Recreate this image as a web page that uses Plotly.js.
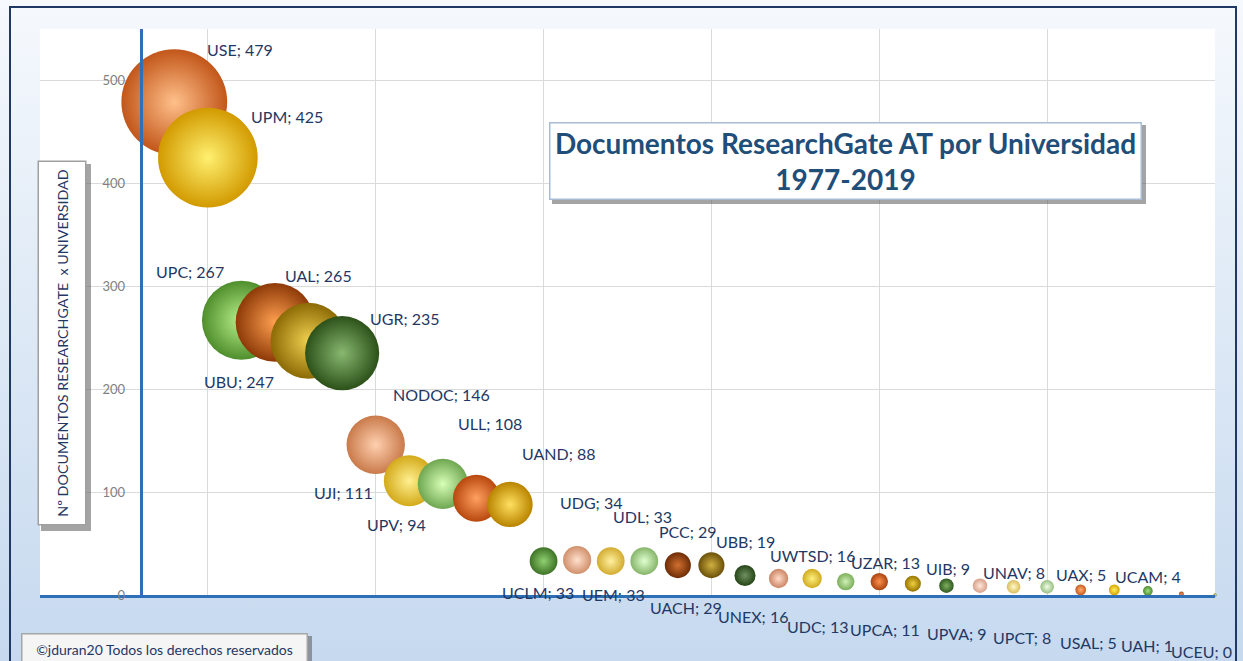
<!DOCTYPE html>
<html>
<head>
<meta charset="utf-8">
<script src="https://cdn.plot.ly/plotly-3.0.1.min.js"></script>
<style>
html,body{margin:0;padding:0;width:1243px;height:661px;overflow:hidden;background:#EAF1F9;}
#bg{position:absolute;left:0;top:0;width:1243px;height:661px;background:linear-gradient(to bottom,#F6F9FD 0%,#E2ECF7 40%,#C6D9EF 100%);}
#frame{position:absolute;left:9px;top:6px;width:1228px;height:720px;border:2px solid #1F3864;box-sizing:border-box;}
#chart{position:absolute;left:0;top:0;width:1243px;height:661px;}
</style>
</head>
<body>
<div id="bg"></div>
<div id="frame"></div>
<div id="chart"></div>
<script>
// ---- data ----
const universities = ["USE","UPM","UPC","UAL","UBU","UGR","NODOC","UJI","ULL","UPV","UAND",
  "UCLM","UDG","UEM","UDL","UACH","PCC","UBB","UNEX","UWTSD","UDC","UZAR","UPCA","UIB",
  "UPVA","UNAV","UPCT","UAX","USAL","UCAM","UAH","UCEU"];
const documents = [479,425,267,265,247,235,146,111,108,94,88,
  33,34,33,33,29,29,19,16,16,13,13,11,9,
  9,8,8,5,5,4,1,0];
const position = universities.map((_, i) => i + 1);

// ---- styles ----
const edgeColors = ["#C2561A","#D29A00","#4F8E2C","#8E3A08","#8C6A05","#2C5119","#C97A4A","#D3AA1A","#6FA650",
  "#B8480E","#B98400","#3E7326","#D0906C","#D2AC30","#86B56A","#6E2C06","#6A500A","#264517","#CB8464",
  "#D0AA20","#7AAE58","#A8420E","#977400","#2F5A1F","#D7A088","#D8BD5C","#98BE80","#C85A1E","#D6A400",
  "#4E8A2E","#A84A1A","#8C8C2C"];
const centerColors = ["#FFC08A","#FFF070","#B8F08A","#FFA050","#F0D050","#88B870","#FFD0B0","#FFF090","#D8FFB8",
  "#FFA060","#FFE060","#90D070","#FFE0CC","#FFF0A0","#E0FFD0","#D07030","#D0B040","#709060","#FFDCC8",
  "#FFF080","#D0F0B8","#FF9050","#F0D040","#80B060","#FFE8DC","#FFF8C8","#F0FFE8","#FFB070","#FFF060",
  "#A0E080","#F09060","#E0E080"];
// label offsets in pixels from bubble centre (screen dx, dy)
const labelDX = [66,79,-51,43,-70,63,66,-66,47,-80,49,-6,14,3,-2,8,-23,0,-26,0,-28,6,-28,2,-23,0,-25,0,-26,0,-34,-14];
const labelDY = [-53,-41,-49,-47,41,-35,-50,12,-60,26,-51,31,-58,33,-45,42,-34,-34,38,-23,45,-19,46,-17,48,-14,51,-15,53,-14,52,56];

const W = 1243, H = 661, L = 40, R = 28, T = 29, B = 66;
const pw = W - L - R, ph = H - T - B;
const px = v => (v - L) / pw;
const py = v => (H - B - v) / ph;
const FONT = "Lato, 'Open Sans', sans-serif";
const NAVY = "#1F3864";
const AXIS_BLUE = "#2E6FB7";

const trace = {
  type: "scatter",
  mode: "markers",
  x: position,
  y: documents,
  cliponaxis: false,
  hoverinfo: "skip",
  marker: {
    size: documents.map(v => Math.max(v, 0.5)),
    sizemode: "area",
    sizeref: 0.0856,
    color: edgeColors,
    gradient: {type: "radial", color: centerColors},
    line: {width: 0},
    opacity: 1
  }
};

const labelAnnotations = universities.map((u, i) => ({
  x: position[i], y: documents[i], xref: "x", yref: "y",
  text: u + "; " + documents[i],
  showarrow: false,
  xshift: labelDX[i], yshift: -labelDY[i],
  xanchor: "center", yanchor: "middle",
  font: {family: FONT, size: 16, color: NAVY}
}));

const boxAnnotations = [
  {
    xref: "paper", yref: "paper", x: px(845), y: py(160.5),
    xanchor: "center", yanchor: "middle",
    text: "<b>Documentos ResearchGate AT por Universidad<br>1977-2019</b>",
    showarrow: false, align: "center",
    font: {family: FONT, size: 28, color: "#1F4E79"},
    bgcolor: "#FFFFFF", bordercolor: "#A9BCD5", borderwidth: 1.5, borderpad: 0,
    width: 590, height: 75
  },
  {
    xref: "paper", yref: "paper", x: px(62), y: py(343.5),
    xanchor: "center", yanchor: "middle",
    text: "Nº DOCUMENTOS RESEARCHGATE &nbsp;x UNIVERSIDAD",
    textangle: -90, showarrow: false,
    font: {family: FONT, size: 14.3, color: NAVY},
    bgcolor: "#FFFFFF", bordercolor: "#A0A0A0", borderwidth: 1.5, borderpad: 0,
    width: 362, height: 46
  },
  {
    xref: "paper", yref: "paper", x: px(164), y: py(649),
    xanchor: "center", yanchor: "middle",
    text: "©jduran20 Todos los derechos reservados",
    showarrow: false,
    font: {family: FONT, size: 14, color: NAVY},
    bgcolor: "#F5F5F5", bordercolor: "#A6A6A6", borderwidth: 1.5, borderpad: 0,
    width: 284, height: 30
  }
];

const shadow = (x0, y0, x1, y1) => ({
  type: "rect", xref: "paper", yref: "paper", layer: "above",
  x0: px(x0), x1: px(x1), y0: py(y1), y1: py(y0),
  fillcolor: "rgba(90,90,90,0.55)", line: {width: 0}
});

const layout = {
  width: W, height: H,
  margin: {l: L, r: R, t: T, b: B, pad: 0},
  paper_bgcolor: "rgba(0,0,0,0)",
  plot_bgcolor: "#FFFFFF",
  showlegend: false,
  xaxis: {
    range: [-3, 32], tick0: -3, dtick: 5,
    showticklabels: false, ticks: "",
    showgrid: true, gridcolor: "#DADADA", gridwidth: 1,
    zeroline: false,
    showline: true, linecolor: AXIS_BLUE, linewidth: 3,
    fixedrange: true
  },
  yaxis: {
    range: [0, 550], tick0: 0, dtick: 100,
    anchor: "free", position: 3 / 35,
    showgrid: true, gridcolor: "#DADADA", gridwidth: 1,
    zeroline: false,
    showline: true, linecolor: AXIS_BLUE, linewidth: 3,
    ticks: "", ticklabelstandoff: 12,
    tickfont: {family: FONT, size: 13, color: "#7F7F7F"},
    fixedrange: true
  },
  shapes: [
    shadow(552, 125, 1146, 204),
    shadow(41, 164, 91, 531),
    shadow(24, 636, 312, 668)
  ],
  annotations: labelAnnotations.concat(boxAnnotations)
};

Plotly.newPlot("chart", [trace], layout, {displayModeBar: false, staticPlot: true});
</script>
</body>
</html>
